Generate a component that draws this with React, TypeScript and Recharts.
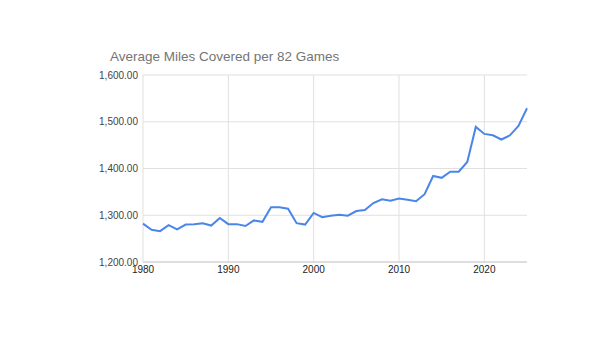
import React from 'react';
import { LineChart, Line, XAxis, YAxis, CartesianGrid } from 'recharts';

const years = [
  1980, 1981, 1982, 1983, 1984, 1985, 1986, 1987, 1988, 1989,
  1990, 1991, 1992, 1993, 1994, 1995, 1996, 1997, 1998, 1999,
  2000, 2001, 2002, 2003, 2004, 2005, 2006, 2007, 2008, 2009,
  2010, 2011, 2012, 2013, 2014, 2015, 2016, 2017, 2018, 2019,
  2020, 2021, 2022, 2023, 2024, 2025,
];

const miles = [
  1282, 1269, 1266, 1279, 1270, 1280, 1281, 1283, 1278, 1294,
  1281, 1281, 1277, 1289, 1286, 1317, 1317, 1314, 1283, 1280,
  1305, 1296, 1299, 1301, 1299, 1309, 1311, 1326, 1334, 1331,
  1336, 1333, 1330, 1345, 1384, 1380, 1393, 1393, 1414, 1489,
  1474, 1471, 1462, 1471, 1491, 1529,
];

const xTicks = [1980, 1990, 2000, 2010, 2020];
const yTicks = [1200, 1300, 1400, 1500, 1600];

const title = 'Average Miles Covered per 82 Games';

const data = years.map((year, i) => ({ year, miles: miles[i] }));

function formatMiles(value: number): string {
  return value.toLocaleString('en-US', { minimumFractionDigits: 2, maximumFractionDigits: 2 });
}

export default function App() {
  const font = '"Liberation Sans", Arial, sans-serif';
  return (
    <div style={{ position: 'absolute', left: 0, top: 0, width: 600, height: 338, background: '#fff', fontFamily: font }}>
      <div style={{ position: 'absolute', left: 110, top: 49, fontSize: 13.5, color: '#757575', whiteSpace: 'nowrap' }}>
        {title}
      </div>
      <LineChart width={600} height={338} data={data} margin={{ top: 75, right: 73, bottom: 56, left: 0 }}>
        <CartesianGrid stroke="#e0e0e0" strokeWidth={1} verticalValues={xTicks} horizontalValues={yTicks} />
        <XAxis
          dataKey="year"
          type="number"
          domain={[1980, 2025]}
          ticks={xTicks}
          height={20}
          tick={{ fontSize: 10, fill: '#222', fontFamily: font }}
          axisLine={{ stroke: '#cccccc' }}
          tickLine={false}
          tickSize={4}
          tickMargin={0}
        />
        <YAxis
          type="number"
          domain={[1200, 1600]}
          ticks={yTicks}
          width={143}
          tick={{ fontSize: 10, fill: '#444', fontFamily: font }}
          tickFormatter={formatMiles}
          axisLine={false}
          tickLine={false}
          tickSize={4}
          tickMargin={1}
        />
        <Line
          type="linear"
          dataKey="miles"
          stroke="#4a86e8"
          strokeWidth={2}
          dot={false}
          isAnimationActive={false}
        />
      </LineChart>
    </div>
  );
}
